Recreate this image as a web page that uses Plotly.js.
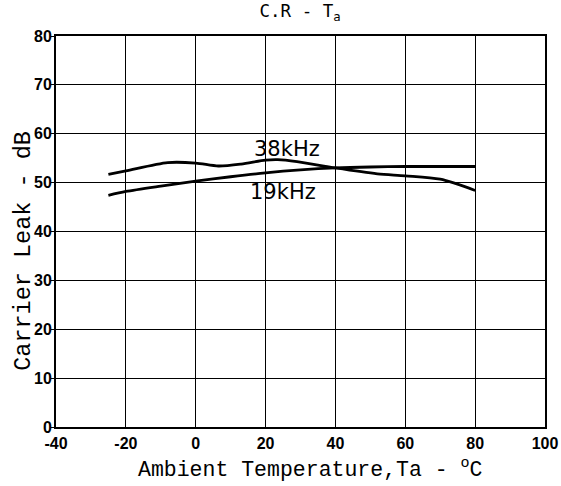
<!DOCTYPE html>
<html>
<head>
<meta charset="utf-8">
<script src="https://cdn.plot.ly/plotly-3.0.1.min.js"></script>
<style>html,body{margin:0;padding:0;background:#fff;}#chart{width:561px;height:486px;}</style>
</head>
<body>
<div id="chart"></div>
<script>
// Data
const temp38 = [-25, -20, -8, 0, 6.5, 13, 20, 23.5, 29, 40, 52, 60, 70, 80];
const leak38 = [51.7, 52.4, 54.1, 54.0, 53.4, 53.8, 54.6, 54.7, 54.3, 53.0, 51.8, 51.4, 50.7, 48.4];
const temp19 = [-25, -20, -10, 0, 10, 20, 30, 40, 50, 60, 70, 80];
const leak19 = [47.4, 48.2, 49.3, 50.3, 51.2, 52.0, 52.6, 53.0, 53.2, 53.3, 53.3, 53.3];
const xTicks = [-40, -20, 0, 20, 40, 60, 80, 100];
const yTicks = [0, 10, 20, 30, 40, 50, 60, 70, 80];
const seriesLabels = [
  {text: '38kHz', x: 26, y: 56.9},
  {text: '19kHz', x: 25, y: 48.0}
];
const chartTitle = 'C.R - T<sub>a</sub>';
const xTitle = 'Ambient Temperature,Ta - <sup>o</sup>C';
const yTitle = 'Carrier Leak - dB';

const lineStyle = {color: '#000', width: 2.8, shape: 'spline', smoothing: 0.8};
const traces = [
  {x: temp38, y: leak38, mode: 'lines', line: lineStyle, name: '38kHz', hoverinfo: 'skip'},
  {x: temp19, y: leak19, mode: 'lines', line: lineStyle, name: '19kHz', hoverinfo: 'skip'}
];

const tickFont = {family: 'Liberation Sans, Arial, sans-serif', size: 16, color: '#000', weight: 'bold'};
const monoFont = {family: 'Liberation Mono, Courier New, monospace', color: '#000'};
const annotations = seriesLabels.map(l => ({
  x: l.x, y: l.y, xref: 'x', yref: 'y', text: l.text, showarrow: false,
  font: {family: 'DejaVu Sans, sans-serif', size: 21, color: '#000'}
}));
annotations.push({
  text: xTitle, xref: 'paper', yref: 'paper', x: 0.52, y: -0.105,
  xanchor: 'center', yanchor: 'middle', showarrow: false,
  font: Object.assign({size: 21.5}, monoFont)
});
annotations.push({
  text: yTitle, xref: 'paper', yref: 'paper', x: -0.068, y: 0.45, textangle: -90,
  xanchor: 'center', yanchor: 'middle', showarrow: false,
  font: Object.assign({size: 23.5}, monoFont)
});

const layout = {
  width: 561, height: 486,
  margin: {l: 56, r: 16, t: 36, b: 59},
  paper_bgcolor: '#fff', plot_bgcolor: '#fff',
  showlegend: false,
  title: {text: chartTitle, x: 0.535, xanchor: 'center', y: 0.99, yanchor: 'top',
          font: {family: 'DejaVu Sans Mono, monospace', size: 17.5, color: '#000'}},
  xaxis: {
    range: [-40, 100], tickvals: xTicks, ticktext: xTicks.map(String),
    showgrid: true, gridcolor: '#000', gridwidth: 1,
    zeroline: false, showline: true, linecolor: '#000', linewidth: 2, mirror: true,
    ticks: '', tickfont: tickFont, ticklabelstandoff: 1
  },
  yaxis: {
    range: [0, 80], tickvals: yTicks, ticktext: yTicks.map(String),
    showgrid: true, gridcolor: '#000', gridwidth: 1,
    zeroline: false, showline: true, linecolor: '#000', linewidth: 2, mirror: true,
    ticks: 'outside', ticklen: 3, tickcolor: '#000', tickfont: tickFont, ticklabelstandoff: -4
  },
  annotations: annotations
};

Plotly.newPlot('chart', traces, layout, {displayModeBar: false, staticPlot: true});
</script>
</body>
</html>
